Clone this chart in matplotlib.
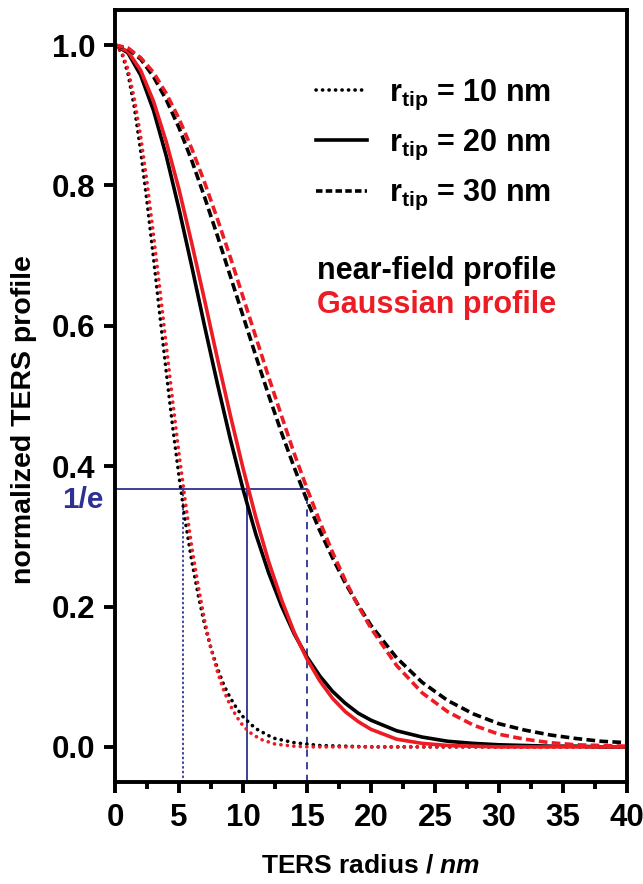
import matplotlib
matplotlib.use('Agg')
import matplotlib.pyplot as plt
from matplotlib.lines import Line2D
from matplotlib.ticker import MultipleLocator
import matplotlib.transforms as mtransforms

plt.rcParams['font.family'] = ['Liberation Sans', 'DejaVu Sans']
plt.rcParams['font.weight'] = 'bold'
plt.rcParams['mathtext.fontset'] = 'custom'
plt.rcParams['mathtext.rm'] = 'Liberation Sans:bold'
plt.rcParams['mathtext.bf'] = 'Liberation Sans:bold'
plt.rcParams['mathtext.it'] = 'Liberation Sans:italic:bold'
plt.rcParams['mathtext.default'] = 'bf'

# TERS radius (nm) - finer steps for the narrow 10 nm tip
r_fine = [0, 0.5, 1, 1.5, 2, 2.5, 3, 3.5, 4, 4.5, 5, 5.5, 6, 6.5, 7, 7.5, 8, 8.5,
          9, 9.5, 10, 10.5, 11, 11.5, 12, 12.5, 13, 13.5, 14,
          15, 16, 18, 20, 25, 30, 35, 40]
r_main = [0, 1, 2, 3, 4, 5, 6, 7, 8, 9, 10, 11, 12, 13, 14, 15, 16, 17, 18, 19, 20,
          22, 24, 26, 28, 30, 32, 34, 36, 38, 40]

# near-field profiles (black)
nf_10 = [1.0, 0.990, 0.960, 0.912, 0.849, 0.776, 0.697, 0.615, 0.534, 0.456,
         0.385, 0.320, 0.264, 0.216, 0.174, 0.140, 0.112, 0.088, 0.070, 0.055,
         0.043, 0.034, 0.026, 0.021, 0.016, 0.012, 0.010, 0.008, 0.006,
         0.004, 0.002, 0.001, 0.0, 0.0, 0.0, 0.0, 0.0]
nf_20 = [1.0, 0.989, 0.957, 0.907, 0.842, 0.766, 0.684, 0.599, 0.517, 0.439, 0.367,
         0.303, 0.248, 0.201, 0.161, 0.128, 0.101, 0.079, 0.062, 0.048, 0.038,
         0.023, 0.014, 0.008, 0.005, 0.003, 0.002, 0.001, 0.001, 0.0, 0.0]
nf_30 = [1.0, 0.995, 0.980, 0.955, 0.922, 0.882, 0.835, 0.783, 0.728, 0.671, 0.614,
         0.557, 0.501, 0.448, 0.398, 0.351, 0.308, 0.269, 0.233, 0.202, 0.173,
         0.127, 0.092, 0.066, 0.047, 0.033, 0.024, 0.017, 0.012, 0.008, 0.006]

# gaussian profiles (red)
gs_10 = [1.0, 0.991, 0.966, 0.924, 0.870, 0.804, 0.730, 0.652, 0.572, 0.493,
         0.417, 0.348, 0.284, 0.229, 0.180, 0.140, 0.107, 0.080, 0.059, 0.043,
         0.030, 0.021, 0.015, 0.010, 0.007, 0.004, 0.003, 0.002, 0.001,
         0.0, 0.0, 0.0, 0.0, 0.0, 0.0, 0.0, 0.0]
gs_20 = [1.0, 0.991, 0.964, 0.920, 0.862, 0.794, 0.717, 0.636, 0.553, 0.473, 0.397,
         0.327, 0.264, 0.210, 0.163, 0.125, 0.094, 0.069, 0.050, 0.036, 0.025,
         0.011, 0.005, 0.002, 0.001, 0.0, 0.0, 0.0, 0.0, 0.0, 0.0]
gs_30 = [1.0, 0.996, 0.982, 0.961, 0.931, 0.895, 0.852, 0.804, 0.752, 0.698, 0.641,
         0.584, 0.527, 0.472, 0.418, 0.368, 0.321, 0.277, 0.237, 0.201, 0.169,
         0.116, 0.077, 0.050, 0.031, 0.018, 0.011, 0.006, 0.003, 0.002, 0.001]

# 1/e widths
inv_e = 0.368
width_10, width_20, width_30 = 5.29, 10.29, 15.0

tip_labels = ['$r_{tip}$ = 10 nm', '$r_{tip}$ = 20 nm', '$r_{tip}$ = 30 nm']

BLACK = '#000000'
RED = '#ED1C24'
BLUE = '#2E3192'
LW = 2.6
dot_style = (0, (0.05, 1.75))
dash_style = (0, (2.4, 1.2))

fig = plt.figure(figsize=(6.43, 8.84), dpi=100)
ax = fig.add_axes([0.179, 0.1154, 0.796, 0.8733])

# blue 1/e guide lines
ax.plot([0, width_30], [inv_e, inv_e], color=BLUE, lw=1.3, zorder=1)
ax.plot([width_10, width_10], [-0.05, inv_e], color=BLUE, lw=1.3,
        linestyle=(0, (0.6, 2.0)), dash_capstyle='round', zorder=1)
ax.plot([width_20, width_20], [-0.05, inv_e + 0.01], color=BLUE, lw=1.3, zorder=1)
ax.plot([width_30, width_30], [-0.05, inv_e], color=BLUE, lw=1.3,
        linestyle=(0, (4, 3)), zorder=1)

# curves
ax.plot(r_fine, nf_10, color=BLACK, lw=LW, linestyle=dot_style, dash_capstyle='round')
ax.plot(r_fine, gs_10, color=RED, lw=LW, linestyle=dot_style, dash_capstyle='round')
ax.plot(r_main, nf_20, color=BLACK, lw=LW)
ax.plot(r_main, gs_20, color=RED, lw=LW)
ax.plot(r_main, nf_30, color=BLACK, lw=LW, linestyle=dash_style)
ax.plot(r_main, gs_30, color=RED, lw=LW, linestyle=dash_style)

ax.set_xlim(0, 40)
ax.set_ylim(-0.05, 1.05)
ax.xaxis.set_major_locator(MultipleLocator(5))
ax.xaxis.set_minor_locator(MultipleLocator(2.5))
ax.yaxis.set_major_locator(MultipleLocator(0.2))
ax.yaxis.set_major_formatter(matplotlib.ticker.FormatStrFormatter('%.1f'))

for sp in ax.spines.values():
    sp.set_linewidth(2.8)
ax.tick_params(which='major', length=8, width=2.8, labelsize=22.5)
ax.tick_params(which='minor', length=5, width=2.8)
ax.tick_params(axis='x', which='major', pad=7)
ax.tick_params(axis='y', which='major', pad=6)

ax.set_xlabel('TERS radius / $\\mathit{nm}$', fontsize=19, fontweight='bold')
ax.xaxis.set_label_coords(0.5, -0.093)
ax.set_ylabel('normalized TERS profile', fontsize=20.5, fontweight='bold')
ax.yaxis.set_label_coords(-0.152, 0.47)

# 1/e label on the left
trans = mtransforms.blended_transform_factory(ax.transAxes, ax.transData)
ax.text(-0.022, 0.352, '1/e', transform=trans, color=BLUE, fontsize=21.5,
        fontweight='bold', ha='right', va='center')

handles = [Line2D([], [], color=BLACK, lw=LW, linestyle=dot_style, dash_capstyle='round'),
           Line2D([], [], color=BLACK, lw=LW),
           Line2D([], [], color=BLACK, lw=LW, linestyle=(0, (1.8, 0.9)))]
leg = ax.legend(handles, tip_labels, loc='upper left', bbox_to_anchor=(0.392, 0.912),
                frameon=False, fontsize=22, handlelength=1.67, handletextpad=0.72,
                labelspacing=0.52, borderaxespad=0, borderpad=0)

ax.text(0.394, 0.662, 'near-field profile', transform=ax.transAxes, fontsize=22,
        fontweight='bold', color=BLACK, ha='left', va='center')
ax.text(0.394, 0.618, 'Gaussian profile', transform=ax.transAxes, fontsize=22,
        fontweight='bold', color=RED, ha='left', va='center')

fig.savefig('out.png', dpi=100)
